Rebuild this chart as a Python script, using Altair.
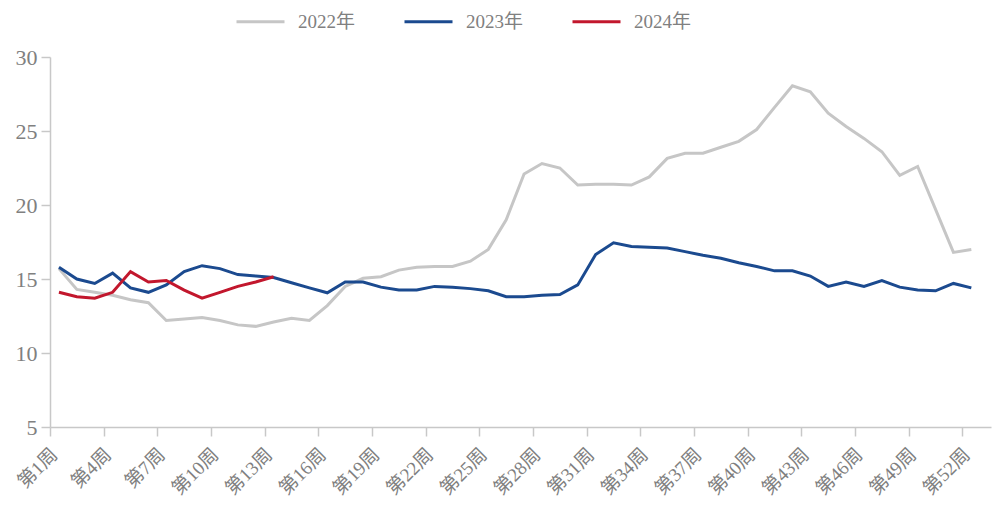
import altair as alt
import pandas as pd

# Weekly series, weeks 1-52
weeks = list(range(1, 53))
y2022 = [15.7, 14.3, 14.1, 13.9, 13.6, 13.4, 12.2, 12.3, 12.4, 12.2,
         11.9, 11.8, 12.1, 12.35, 12.2, 13.2, 14.5, 15.05, 15.15, 15.6,
         15.8, 15.85, 15.85, 16.2, 17.0, 19.0, 22.1, 22.8, 22.5, 21.35,
         21.4, 21.4, 21.35, 21.9, 23.15, 23.5, 23.5, 23.9, 24.3, 25.1,
         26.6, 28.05, 27.65, 26.2, 25.3, 24.5, 23.6, 22.0, 22.6, 19.7,
         16.8, 17.0]
y2023 = [15.8, 15.0, 14.7, 15.4, 14.4, 14.1, 14.6, 15.5, 15.9, 15.7,
         15.3, 15.2, 15.1, 14.75, 14.4, 14.07, 14.8, 14.8, 14.45, 14.26,
         14.26, 14.5, 14.45, 14.35, 14.2, 13.8, 13.8, 13.9, 13.95, 14.6,
         16.65, 17.45, 17.2, 17.15, 17.1, 16.85, 16.6, 16.4, 16.1, 15.85,
         15.55, 15.55, 15.2, 14.5, 14.8, 14.5, 14.9, 14.45, 14.25, 14.2,
         14.7, 14.4]
y2024 = [14.1, 13.8, 13.7, 14.1, 15.5, 14.8, 14.9, 14.25, 13.7, 14.1,
         14.5, 14.8, 15.15]

series_names = ["2022年", "2023年", "2024年"]
series_colors = ["#C6C6C6", "#1B4A8F", "#C2172D"]
y_ticks = [5, 10, 15, 20, 25, 30]

rows = []
for name, vals in zip(series_names, [y2022, y2023, y2024]):
    for w, v in zip(weeks, vals):
        rows.append({"week": w, "value": v, "year": name})
df = pd.DataFrame(rows)

font = "Times New Roman, Liberation Serif, Noto Sans CJK SC"
axis_gray = "#C8C8C8"
text_gray = "#808080"

# ticks sit on category boundaries, labels at category centres
tick_values = [w - 0.5 for w in weeks[::3]]

chart = alt.Chart(df).mark_line(strokeWidth=3).encode(
    x=alt.X(
        "week:Q",
        scale=alt.Scale(domain=[0.5, 53.1], nice=False, zero=False),
        axis=alt.Axis(
            values=tick_values,
            labelExpr="'第' + (datum.value + 0.5) + '周'",
            title=None, grid=False,
            labelAngle=-45, labelAlign="right", labelBaseline="middle",
            labelOffset=4, labelPadding=15,
            labelOverlap=False, labelFlush=False, labelBound=False,
            labelFont=font, labelFontSize=19, labelColor=text_gray,
            domainColor=axis_gray, domainWidth=1.5,
            tickColor=axis_gray, tickSize=9, tickWidth=1.5,
        ),
    ),
    y=alt.Y(
        "value:Q",
        scale=alt.Scale(domain=[5, 30], nice=False, zero=False),
        axis=alt.Axis(
            values=y_ticks, title=None, grid=False,
            labelFont=font, labelFontSize=22, labelColor=text_gray,
            labelPadding=4,
            domainColor=axis_gray, domainWidth=1.5,
            tickColor=axis_gray, tickSize=9, tickWidth=1.5,
        ),
    ),
    color=alt.Color(
        "year:N",
        scale=alt.Scale(domain=series_names, range=series_colors),
        legend=alt.Legend(
            title=None, orient="none", direction="horizontal", columns=3,
            legendX=185, legendY=-61,
            symbolType="stroke", symbolSize=2304, symbolStrokeWidth=3,
            labelFont=font, labelFontSize=19, labelColor=text_gray,
            labelOffset=12, columnPadding=42,
        ),
    ),
).properties(
    width=941,
    height=370,
    autosize=alt.AutoSizeParams(type="none"),
    padding={"left": 50, "top": 57, "right": 2, "bottom": 78},
).configure_view(stroke=None)

chart.save("out.html", embed_options={"renderer": "svg", "actions": False})
